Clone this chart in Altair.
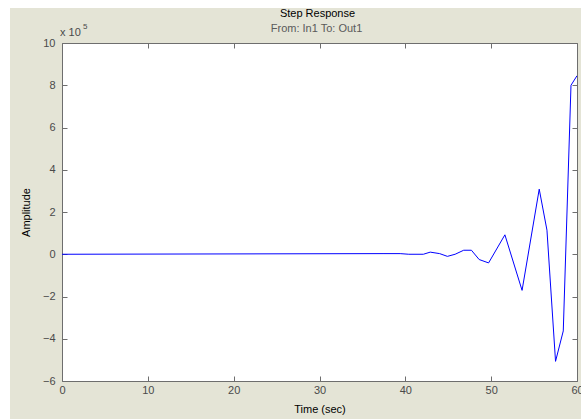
import altair as alt
import pandas as pd

# Step response samples (amplitude in units of 1e5)
time_sec = [0, 37.4, 39.4, 40.4, 42.1, 42.9, 44.0, 44.9, 45.8, 46.8, 47.7,
            48.6, 49.7, 51.6, 53.6, 55.6, 56.5, 57.5, 58.4, 59.3, 60.0]
amp_e5 = [0, 0.03, 0.03, 0, 0, 0.1, 0.03, -0.1, 0, 0.19, 0.19,
          -0.25, -0.41, 0.92, -1.71, 3.08, 1.14, -5.07, -3.63, 8.0, 8.45]

x_ticks = [0, 10, 20, 30, 40, 50, 60]
y_ticks = [-6, -4, -2, 0, 2, 4, 6, 8, 10]

title_text = "Step Response"
subtitle_text = "From: In1  To: Out1"

df = pd.DataFrame({"t": time_sec, "a": amp_e5})
one = pd.DataFrame({"k": [0]})

FONT = "Liberation Sans"
BG = "#E4E4D6"
AX = "#6E6E6E"
LBL = "#4a4a4a"

W, H = 515, 338
PL, PT = 62, 43

xs = alt.Scale(domain=[0, 60], nice=False, zero=False)
ys = alt.Scale(domain=[-6, 10], nice=False, zero=False)

base = alt.Chart(df)

main = base.mark_line(color="#0000FF", strokeWidth=1, clip=True).encode(
    x=alt.X("t:Q", scale=xs,
            axis=alt.Axis(orient="bottom", values=x_ticks, title="Time (sec)",
                          offset=-5, tickSize=5, domain=False, grid=False,
                          labelFlush=False, labelOverlap=False,
                          labelPadding=3, titlePadding=8, format="d")),
    y=alt.Y("a:Q", scale=ys,
            axis=alt.Axis(orient="left", values=y_ticks, title="Amplitude",
                          offset=-5, tickSize=5, domain=False, grid=False,
                          labelFlush=False, labelOverlap=False,
                          labelPadding=7, titlePadding=11, format="d")),
)

mirror = base.mark_line(opacity=0).encode(
    x=alt.X("t:Q", scale=xs,
            axis=alt.Axis(orient="top", values=x_ticks, title=None, labels=False,
                          offset=-5, tickSize=5, domain=False, grid=False)),
    y=alt.Y("a:Q", scale=ys,
            axis=alt.Axis(orient="right", values=y_ticks, title=None, labels=False,
                          offset=-5, tickSize=5, domain=False, grid=False)),
)

strip_top = alt.Chart(one).mark_rect(color="white").encode(
    x=alt.value(-PL), x2=alt.value(W + 4), y=alt.value(-PT), y2=alt.value(-PT + 8)
)
strip_left = alt.Chart(one).mark_rect(color="white").encode(
    x=alt.value(-PL), x2=alt.value(-PL + 10), y=alt.value(-PT), y2=alt.value(H + 38)
)

title_mark = alt.Chart(one).mark_text(align="center", baseline="alphabetic", font=FONT,
                                      fontSize=11, color="black").encode(
    x=alt.value(W / 2 - 2), y=alt.value(-26), text=alt.value(title_text)
)
subtitle_mark = alt.Chart(one).mark_text(align="center", baseline="alphabetic", font=FONT,
                                         fontSize=11, color="#5a5a5a").encode(
    x=alt.value(W / 2 - 3), y=alt.value(-11), text=alt.value(subtitle_text)
)

mult = alt.Chart(one).mark_text(align="left", baseline="alphabetic", font=FONT,
                                fontSize=11, color=LBL).encode(
    x=alt.value(-2), y=alt.value(-7), text=alt.value("x 10")
)
mult_exp = alt.Chart(one).mark_text(align="left", baseline="alphabetic", font=FONT,
                                    fontSize=8, color=LBL).encode(
    x=alt.value(21), y=alt.value(-14), text=alt.value("5")
)

chart = alt.layer(strip_top, strip_left, main, mirror, title_mark, subtitle_mark,
                  mult, mult_exp).resolve_axis(
    x="independent", y="independent"
).properties(
    width=W, height=H,
    autosize=alt.AutoSizeParams(type="none"),
    padding={"left": PL, "top": PT, "right": 4, "bottom": 38},
    background=BG,
).configure_view(
    fill="white", stroke=AX, strokeWidth=1
).configure_axis(
    labelFont=FONT, labelFontSize=11, labelColor=LBL,
    titleFont=FONT, titleFontSize=11, titleColor="black", titleFontWeight="normal",
    tickColor=AX, tickWidth=1,
)

chart.save("out.html", embed_options={"renderer": "svg", "actions": False})
